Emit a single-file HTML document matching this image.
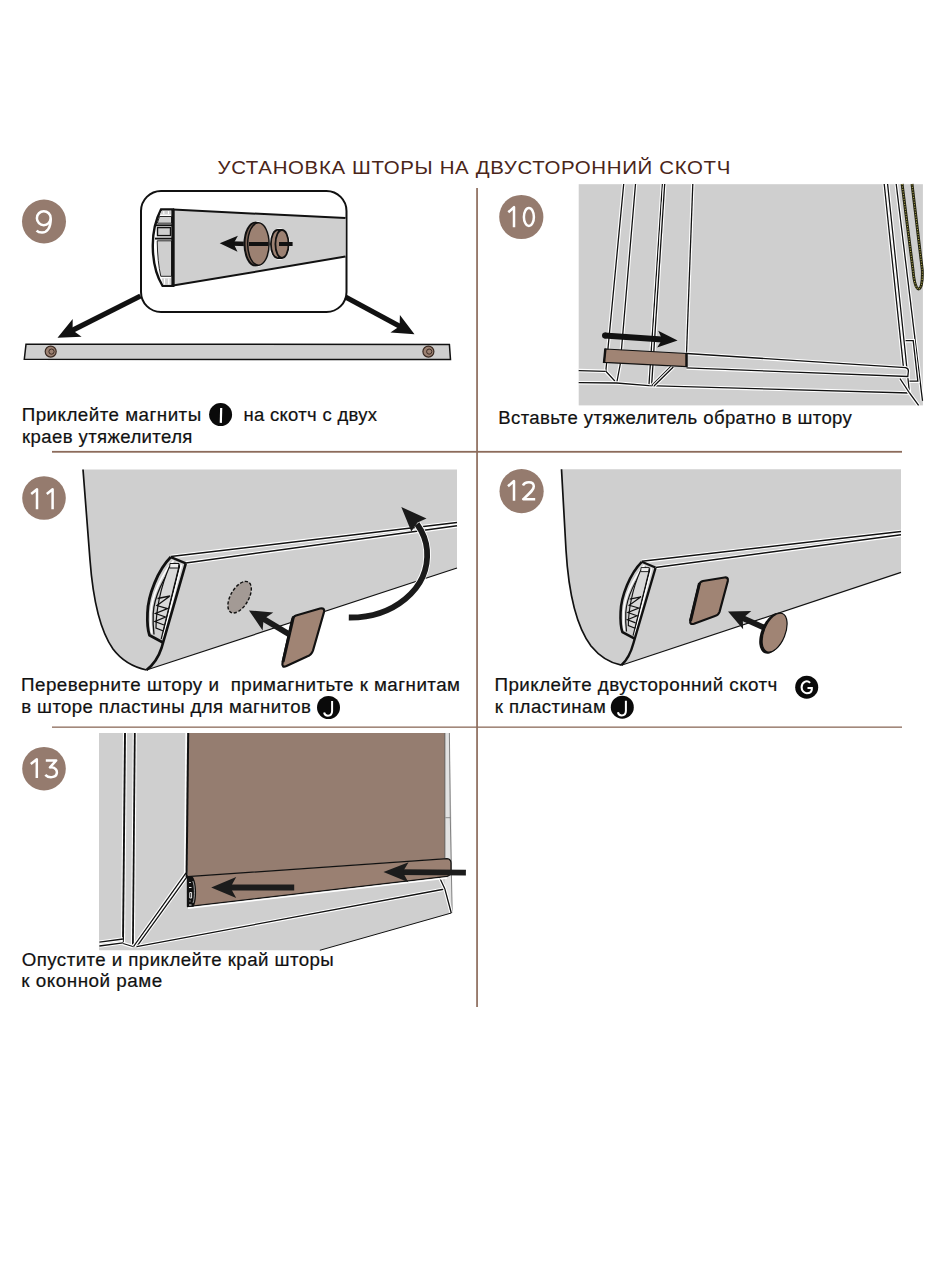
<!DOCTYPE html>
<html><head><meta charset="utf-8"><style>
html,body{margin:0;padding:0;background:#fff;width:950px;height:1266px;overflow:hidden}
svg{position:absolute;left:0;top:0;font-family:"Liberation Sans",sans-serif}
</style></head><body>
<svg width="950" height="1266" viewBox="0 0 950 1266">
<rect x="476.2" y="188" width="1.7" height="819" fill="#8c6b5b"/>
<rect x="52" y="450.9" width="850" height="1.8" fill="#8c6b5b"/>
<rect x="52" y="726.5" width="850" height="1.3" fill="#8c6b5b"/>
<text transform="translate(217.49,174) scale(1.0773,1.0)" font-size="19" letter-spacing="0.602" fill="#4a2519">УСТАНОВКА ШТОРЫ НА ДВУСТОРОННИЙ СКОТЧ</text>
<circle cx="44" cy="221.5" r="22" fill="#957b6e"/>
<g fill="none" stroke="#fff" stroke-width="2.5" stroke-linejoin="round"><ellipse cx="43.8" cy="218.2" rx="6.9" ry="7"/><path d="M50.7,218.5 C50.8,228 47,232.6 42,232.6 C39.6,232.6 37.8,231.9 36.6,230.6"/></g>
<rect x="141" y="191" width="205.5" height="121" rx="20" fill="#fff" stroke="#111" stroke-width="2"/>
<polygon points="173,209.6 345.5,218 345.5,256.6 173,285.6" fill="#cfcfcf"/>
<polyline points="173,209.6 345.5,218" fill="none" stroke="#111" stroke-width="2"/>
<polyline points="173,285.6 345.5,256.6" fill="none" stroke="#111" stroke-width="2"/>
<path d="M173,209.4 L161.1,209.4 C155,221 152.6,236 152.8,247 C153,262 156.5,276 162.6,285.9 L173,285.9 Z" fill="#fff" stroke="#111" stroke-width="2.4"/>
<path d="M161.5,211 L171.5,211 L171.5,214.5 L159.8,214.5 Z" fill="#cfcfcf"/>
<path d="M163.8,211 L163.8,214 M168.5,211 L168.5,214" stroke="#fff" stroke-width="1.1"/>
<path d="M159.5,216.5 L171.5,216.5 L171.5,223.2 L157.3,223.2 Z" fill="#cfcfcf" stroke="#111" stroke-width="0.9"/>
<line x1="155.8" y1="225.3" x2="173" y2="225.3" stroke="#111" stroke-width="1.9"/>
<rect x="157.5" y="227.6" width="13" height="8" fill="#cfcfcf" stroke="#111" stroke-width="1.4"/>
<line x1="155" y1="238.6" x2="173" y2="238.6" stroke="#111" stroke-width="1.9"/>
<path d="M157.2,240.8 L171.5,240.8 L171.5,276.3 L160.8,276.3 Q157.5,262 157.2,240.8 Z" fill="#cfcfcf" stroke="#111" stroke-width="0.9"/>
<path d="M161.8,278.2 L171.5,278.2 L171.5,284.8 L163,284.8 Z" fill="#cfcfcf"/>
<path d="M164.5,278.5 L164.5,284.5 M168.8,278.5 L168.8,284.5" stroke="#fff" stroke-width="1.1"/>
<line x1="173" y1="209" x2="173" y2="286.5" stroke="#111" stroke-width="3.2"/>
<line x1="249.0" y1="244.0" x2="230.5" y2="243.5" stroke="#111" stroke-width="4.5"/>
<polygon points="219.7,243.2 237.9,235.7 233.6,243.6 237.5,251.7" fill="#111"/>
<ellipse cx="256.8" cy="244" rx="13" ry="23" fill="#fff"/>
<ellipse cx="279.5" cy="244" rx="10.5" ry="15.8" fill="#fff"/>
<ellipse cx="255.5" cy="244" rx="11" ry="21.5" fill="#7d6558" stroke="#111" stroke-width="2"/>
<ellipse cx="258.4" cy="244" rx="10.7" ry="21.2" fill="#9c8172" stroke="#111" stroke-width="1.5"/>
<ellipse cx="277.5" cy="244" rx="6.6" ry="14" fill="#9c8172" stroke="#111" stroke-width="1.8"/>
<rect x="277.5" y="230" width="4.5" height="28" fill="#9c8172"/>
<path d="M277.5,230 L282,230 M277.5,258 L282,258" stroke="#111" stroke-width="1.8"/>
<ellipse cx="282" cy="244" rx="6.6" ry="14" fill="#9c8172" stroke="#111" stroke-width="1.8"/>
<line x1="249" y1="244" x2="268.5" y2="244" stroke="#111" stroke-width="4"/>
<line x1="279" y1="244" x2="292.6" y2="244" stroke="#111" stroke-width="4"/>
<polygon points="26,344.3 449.4,344.4 450.5,359.6 24.3,359.2" fill="#cfcfcf" stroke="#111" stroke-width="1.5"/>
<circle cx="50.7" cy="351.6" r="5.5" fill="#9c8172" stroke="#3a2a22" stroke-width="1.2"/>
<circle cx="51.5" cy="351.6" r="2.6" fill="none" stroke="#3a2a22" stroke-width="1"/>
<circle cx="428.4" cy="351.6" r="5.5" fill="#9c8172" stroke="#3a2a22" stroke-width="1.2"/>
<circle cx="429.2" cy="351.6" r="2.6" fill="none" stroke="#3a2a22" stroke-width="1"/>
<line x1="140.5" y1="296.0" x2="69.3" y2="331.9" stroke="#111" stroke-width="5.2"/>
<polygon points="57.5,337.8 72.7,319.0 72.6,330.2 81.6,336.8" fill="#111"/>
<line x1="345.5" y1="297.0" x2="402.9" y2="328.0" stroke="#111" stroke-width="5.2"/>
<polygon points="414.5,334.3 390.4,332.6 399.6,326.2 399.9,315.0" fill="#111"/>
<text transform="translate(21.70,421) scale(1.0728,1.03)" font-size="17.5" letter-spacing="0.446" fill="#111" stroke="#111" stroke-width="0.2">Приклейте магниты</text>
<circle cx="220.6" cy="414.6" r="11.5" fill="#0a0a0a"/>
<line x1="221.20" y1="408.00" x2="220.80" y2="422.90" stroke="#fff" stroke-width="2.2"/>
<text transform="translate(243.41,421) scale(1.0555,1.03)" font-size="17.5" letter-spacing="0.303" fill="#111" stroke="#111" stroke-width="0.2">на скотч с двух</text>
<text transform="translate(21.99,443) scale(1.0613,1.03)" font-size="17.5" letter-spacing="0.367" fill="#111" stroke="#111" stroke-width="0.2">краев утяжелителя</text>
<rect x="578.7" y="184.2" width="344.2" height="221.2" fill="#cfcfcf"/>
<polyline points="623.7,184 605.8,371.3 616.7,383" stroke="#fff" fill="none" stroke-width="3.50"/>
<polyline points="623.7,184 605.8,371.3 616.7,383" stroke="#111" fill="none" stroke-width="1.3"/>
<polyline points="635.5,184 620.2,364.5 616.7,383" stroke="#fff" fill="none" stroke-width="3.50"/>
<polyline points="635.5,184 620.2,364.5 616.7,383" stroke="#111" fill="none" stroke-width="1.3"/>
<line x1="662.4" y1="184" x2="648.9" y2="385.7" stroke="#fff" fill="none" stroke-width="3.50"/>
<line x1="662.4" y1="184" x2="648.9" y2="385.7" stroke="#111" fill="none" stroke-width="1.3"/>
<line x1="664.7" y1="184" x2="651.6" y2="385.7" stroke="#fff" fill="none" stroke-width="3.50"/>
<line x1="664.7" y1="184" x2="651.6" y2="385.7" stroke="#111" fill="none" stroke-width="1.3"/>
<line x1="692.8" y1="184" x2="686.5" y2="353.5" stroke="#fff" fill="none" stroke-width="3.50"/>
<line x1="692.8" y1="184" x2="686.5" y2="353.5" stroke="#111" fill="none" stroke-width="1.3"/>
<line x1="578.7" y1="370.6" x2="605.8" y2="371.3" stroke="#fff" fill="none" stroke-width="3.50"/>
<line x1="578.7" y1="370.6" x2="605.8" y2="371.3" stroke="#111" fill="none" stroke-width="1.3"/>
<polyline points="578.7,382.7 616.7,383 648.9,385.7 909.5,393" stroke="#fff" fill="none" stroke-width="3.50"/>
<polyline points="578.7,382.7 616.7,383 648.9,385.7 909.5,393" stroke="#111" fill="none" stroke-width="1.3"/>
<line x1="670.8" y1="366.5" x2="651.6" y2="385.7" stroke="#fff" fill="none" stroke-width="3.50"/>
<line x1="670.8" y1="366.5" x2="651.6" y2="385.7" stroke="#111" fill="none" stroke-width="1.3"/>
<line x1="673.3" y1="367" x2="654" y2="386" stroke="#fff" fill="none" stroke-width="3.50"/>
<line x1="673.3" y1="367" x2="654" y2="386" stroke="#111" fill="none" stroke-width="1.3"/>
<polyline points="884.2,184 903.4,366.9" stroke="#fff" fill="none" stroke-width="3.50"/>
<polyline points="884.2,184 903.4,366.9" stroke="#111" fill="none" stroke-width="1.3"/>
<polyline points="887.6,184 909.5,393 918.6,405.4" stroke="#fff" fill="none" stroke-width="3.50"/>
<polyline points="887.6,184 909.5,393 918.6,405.4" stroke="#111" fill="none" stroke-width="1.3"/>
<line x1="896.2" y1="184" x2="922.5" y2="400.8" stroke="#fff" fill="none" stroke-width="3.50"/>
<line x1="896.2" y1="184" x2="922.5" y2="400.8" stroke="#111" fill="none" stroke-width="1.3"/>
<polyline points="905.6,340.7 913.2,340.7 917.8,381.2 909.5,381.2" stroke="#fff" fill="none" stroke-width="3.50"/>
<polyline points="905.6,340.7 913.2,340.7 917.8,381.2 909.5,381.2" stroke="#111" fill="none" stroke-width="1.3"/>
<path d="M686.5,353.5 L905.5,367.7 Q909,368.5 908.3,372 L907.8,376.5 L686.5,367.9 Z" fill="#cfcfcf"/>
<path d="M686.5,353.5 L905.5,367.7 Q909,368.5 908.3,372 L907.8,376.5 L686.5,367.9" stroke="#fff" fill="none" stroke-width="3.50"/>
<path d="M686.5,353.5 L905.5,367.7 Q909,368.5 908.3,372 L907.8,376.5 L686.5,367.9" stroke="#111" fill="none" stroke-width="1.3"/>
<line x1="900" y1="378.6" x2="909.5" y2="393" stroke="#fff" fill="none" stroke-width="3.50"/>
<line x1="900" y1="378.6" x2="909.5" y2="393" stroke="#111" fill="none" stroke-width="1.3"/>
<path d="M902.1,184 L913,270 C914.2,284 916.5,289 918.5,289 C920.8,289 922.8,284 922.3,270 L912,184" fill="none" stroke="#222210" stroke-width="2.9"/>
<path d="M902.1,184 L913,270 C914.2,284 916.5,289 918.5,289 C920.8,289 922.8,284 922.3,270 L912,184" fill="none" stroke="#b5ad50" stroke-width="1.1" stroke-dasharray="1 1.5"/>
<polygon points="605.4,349 686.5,353.5 686.5,366.5 604,362.4" fill="#a08474" stroke="#111" stroke-width="1.2"/>
<line x1="605.4" y1="348.5" x2="604" y2="363" stroke="#111" stroke-width="2.4"/>
<line x1="686.5" y1="353" x2="686.5" y2="367" stroke="#111" stroke-width="2.4"/>
<line x1="604.5" y1="335.5" x2="665.6" y2="339.7" stroke="#111" stroke-width="6"/>
<polygon points="677.6,340.5 657.1,347.6 662.2,339.4 658.2,330.7" fill="#111"/>
<circle cx="605" cy="335.4" r="3" fill="#111"/>
<circle cx="521.3" cy="217" r="22.1" fill="#957b6e"/>
<g fill="none" stroke="#fff" stroke-width="2.5" stroke-linejoin="round"><path d="M508.3,212.3 L514,207.2 L514,227.2"/><ellipse cx="528.9" cy="216.9" rx="5" ry="9"/></g>
<text transform="translate(498.21,423.8) scale(1.0619,1.03)" font-size="17.5" letter-spacing="0.354" fill="#111" stroke="#111" stroke-width="0.2">Вставьте утяжелитель обратно в штору</text>
<path d="M83,469.5 L457,469.5 L457,568 L146.5,670 C133,667 122,661 113,649 C101,632 93,600 90,560 Z" fill="#cfcfcf"/>
<line x1="457" y1="568" x2="146.5" y2="670" stroke="#111" stroke-width="1.2"/>
<path d="M146.5,670 C133,667 122,661 113,649 C101,632 93,600 90,560 L83,469.5" fill="none" stroke="#111" stroke-width="1.7"/>
<line x1="170.8" y1="556.6" x2="457" y2="522.6" stroke="#fff" stroke-width="3.70"/>
<line x1="170.8" y1="556.6" x2="457" y2="522.6" stroke="#111" stroke-width="1.5"/>
<line x1="185.8" y1="562.9" x2="457" y2="525.8" stroke="#fff" stroke-width="3.70"/>
<line x1="185.8" y1="562.9" x2="457" y2="525.8" stroke="#111" stroke-width="1.5"/>
<g>
<path d="M170.8,557.1 C158,570 148,595 147.5,613 C147,624 148,631 149.5,635.3 L162.9,642.4 L185.8,563.4 Z" fill="#cfcfcf"/>
<path d="M173.6,560.6 C162,574 151.4,596 150.8,613 C150.4,622 150.8,628 151.6,633.5" fill="none" stroke="#fff" stroke-width="1.6"/>
<path d="M175.4,562.8 C164,576 154,597 153.2,613.5 C152.8,622 153.2,628 154,634.5" fill="none" stroke="#111" stroke-width="1.3"/>
<path d="M169.5,566.5 L179.5,566.5 L163.5,631 L156,628 C156,612 160,588 169.5,566.5 Z" fill="#d9d9d9" stroke="#111" stroke-width="1.2"/>
<path d="M170,563.5 L179,563.5 L178.5,568 L169.5,568 Z" fill="#eee" stroke="#111" stroke-width="1"/>
<polyline points="157.5,598.5 170,596 157,605.5 167.5,608.5 155.5,613.5 165.5,617 155,621.5 164,625" fill="none" stroke="#111" stroke-width="1.3"/>
<line x1="181.5" y1="564.5" x2="163" y2="638" stroke="#fff" stroke-width="1.5"/>
<line x1="179.5" y1="564.5" x2="161.2" y2="639" stroke="#111" stroke-width="1.2"/>
<path d="M170.8,557.1 C158,570 148,595 147.5,613 C147,624 148,631 149.5,635.3 L162.9,642.4" fill="none" stroke="#111" stroke-width="2.8" stroke-linejoin="round"/>
<path d="M170.8,557.1 L185.8,563.4" fill="none" stroke="#111" stroke-width="2.5"/>
</g>
<path d="M185.8,563.4 L161.5,648 Q157,662 146.5,670" fill="none" stroke="#111" stroke-width="2.6"/>
<ellipse cx="239.6" cy="597.2" rx="9" ry="17.5" transform="rotate(30 239.6 597.2)" fill="#a39a95" stroke="#111" stroke-width="1.4" stroke-dasharray="3.2 1.8"/>
<path d="M296,615.5 L320,608.5 Q325,607.5 324,612 L313,650.5 Q311.5,655 307,656.5 L286.5,666 Q281.5,668 282.5,663 L292,620 Q293,616.5 296,615.5 Z" fill="#a08474" stroke="#111" stroke-width="2.2"/>
<path d="M293.5,616.5 L283,662" stroke="#111" stroke-width="3" fill="none"/>
<line x1="289.5" y1="634.4" x2="260.4" y2="617.1" stroke="#1a1a1a" stroke-width="5.8"/>
<polygon points="249.0,610.4 273.3,612.6 263.6,619.0 262.6,630.6" fill="#1a1a1a"/>
<path d="M348.8,617.5 C392,618 430,590 427,550 C426,538 422,531 417,524" fill="none" stroke="#fff" stroke-width="7.6"/>
<path d="M348.8,617.5 C392,618 430,590 427,550 C426,538 422,531 417,524" fill="none" stroke="#1a1a1a" stroke-width="5.8"/>
<polygon points="401.3,507 426.5,518.4 417.5,522.5 411.3,531.6" fill="#1a1a1a"/>
<circle cx="44" cy="498" r="21.8" fill="#957b6e"/>
<g fill="none" stroke="#fff" stroke-width="2.5" stroke-linejoin="round"><path d="M31.2,494 L37,489.3 L37,509.2"/><path d="M46.8,494 L52.6,489.3 L52.6,509.2"/></g>
<text transform="translate(21.10,691) scale(1.0743,1.03)" font-size="17.5" letter-spacing="0.416" fill="#111" stroke="#111" stroke-width="0.2">Переверните штору и&#160; примагнитьте к магнитам</text>
<text transform="translate(21.30,712.7) scale(1.0629,1.03)" font-size="17.5" letter-spacing="0.367" fill="#111" stroke="#111" stroke-width="0.2">в шторе пластины для магнитов</text>
<circle cx="328.5" cy="707.5" r="11.5" fill="#0a0a0a"/>
<path d="M332.10,701.00 L332.10,711.00 C332.10,714.50 330.10,715.70 327.90,715.70 C325.90,715.70 324.50,714.50 324.10,712.50" fill="none" stroke="#fff" stroke-width="2"/>
<path d="M561.5,469.3 L901,469.3 L901,572.4 L621.4,665.2 C610,663 600,657 591,646 C576,626 568.5,592 566,550 Z" fill="#cfcfcf"/>
<line x1="901" y1="572.4" x2="621.4" y2="665.2" stroke="#111" stroke-width="1.2"/>
<path d="M621.4,665.2 C610,663 600,657 591,646 C576,626 568.5,592 566,550 L561.5,469.3" fill="none" stroke="#111" stroke-width="1.7"/>
<line x1="641.8" y1="561.3" x2="901" y2="531.5" stroke="#fff" stroke-width="3.70"/>
<line x1="641.8" y1="561.3" x2="901" y2="531.5" stroke="#111" stroke-width="1.5"/>
<line x1="655.5" y1="567.5" x2="901" y2="534.8" stroke="#fff" stroke-width="3.70"/>
<line x1="655.5" y1="567.5" x2="901" y2="534.8" stroke="#111" stroke-width="1.5"/>
<g transform="translate(641.8,561.8) scale(0.91,0.9) translate(-170.8,-557.1)">
<path d="M170.8,557.1 C158,570 148,595 147.5,613 C147,624 148,631 149.5,635.3 L162.9,642.4 L185.8,563.4 Z" fill="#cfcfcf"/>
<path d="M173.6,560.6 C162,574 151.4,596 150.8,613 C150.4,622 150.8,628 151.6,633.5" fill="none" stroke="#fff" stroke-width="1.6"/>
<path d="M175.4,562.8 C164,576 154,597 153.2,613.5 C152.8,622 153.2,628 154,634.5" fill="none" stroke="#111" stroke-width="1.3"/>
<path d="M169.5,566.5 L179.5,566.5 L163.5,631 L156,628 C156,612 160,588 169.5,566.5 Z" fill="#d9d9d9" stroke="#111" stroke-width="1.2"/>
<path d="M170,563.5 L179,563.5 L178.5,568 L169.5,568 Z" fill="#eee" stroke="#111" stroke-width="1"/>
<polyline points="157.5,598.5 170,596 157,605.5 167.5,608.5 155.5,613.5 165.5,617 155,621.5 164,625" fill="none" stroke="#111" stroke-width="1.3"/>
<line x1="181.5" y1="564.5" x2="163" y2="638" stroke="#fff" stroke-width="1.5"/>
<line x1="179.5" y1="564.5" x2="161.2" y2="639" stroke="#111" stroke-width="1.2"/>
<path d="M170.8,557.1 C158,570 148,595 147.5,613 C147,624 148,631 149.5,635.3 L162.9,642.4" fill="none" stroke="#111" stroke-width="2.8" stroke-linejoin="round"/>
<path d="M170.8,557.1 L185.8,563.4" fill="none" stroke="#111" stroke-width="2.5"/>
</g>
<path d="M655.5,568 L633.5,643 Q629.5,658 621.4,665.2" fill="none" stroke="#111" stroke-width="2.4"/>
<path d="M703,581 L724.5,577.5 Q728.5,577 727.8,581 L719.5,612 Q718.5,615 715,616 L694,623.7 Q689.5,625 690.3,620.5 L699,585 Q700,581.5 703,581 Z" fill="#a08474" stroke="#111" stroke-width="2.2"/>
<path d="M699.5,583 L690.5,621" stroke="#111" stroke-width="3" fill="none"/>
<line x1="766.0" y1="628.5" x2="739.5" y2="616.7" stroke="#1a1a1a" stroke-width="5.8"/>
<polygon points="728.0,611.6 751.3,611.0 742.8,618.2 743.1,629.3" fill="#1a1a1a"/>
<ellipse cx="772.8" cy="633.3" rx="11.8" ry="21.6" transform="rotate(22 772.8 633.3)" fill="#111"/>
<ellipse cx="774.6" cy="632.6" rx="10.6" ry="20.6" transform="rotate(22 774.6 632.6)" fill="#a08474" stroke="#111" stroke-width="1.2"/>
<circle cx="521.6" cy="491.2" r="22.1" fill="#957b6e"/>
<g fill="none" stroke="#fff" stroke-width="2.5" stroke-linejoin="round"><path d="M508,486.3 L514,481 L514,500.7"/><path d="M523,485.5 C524.5,481.5 533.5,480.5 533.8,486.2 C534,489.5 530.5,492.5 523.2,499.2 L535.2,499.2"/></g>
<text transform="translate(494.50,691) scale(1.0735,1.03)" font-size="17.5" letter-spacing="0.422" fill="#111" stroke="#111" stroke-width="0.2">Приклейте двусторонний скотч</text>
<circle cx="806.7" cy="687.2" r="11.5" fill="#0a0a0a"/>
<path d="M810.10,682.90 A5.1,6 0 0 0 801.60,687.20 A5.1,6 0 0 0 806.70,693.20 C809.70,693.20 811.80,691.70 811.80,689.20 L811.80,688.00 L807.50,688.00" fill="none" stroke="#fff" stroke-width="2.1"/>
<text transform="translate(494.79,712.7) scale(1.0673,1.03)" font-size="17.5" letter-spacing="0.410" fill="#111" stroke="#111" stroke-width="0.2">к пластинам</text>
<circle cx="622.3" cy="707.2" r="11.5" fill="#0a0a0a"/>
<path d="M625.90,700.70 L625.90,710.70 C625.90,714.20 623.90,715.40 621.70,715.40 C619.70,715.40 618.30,714.20 617.90,712.20" fill="none" stroke="#fff" stroke-width="2"/>
<polygon points="99,733 449.4,733 451.3,817.7 452.2,913 319.8,950.3 99,950.3" fill="#cfcfcf"/>
<polygon points="444.9,733 449.4,733 450.3,817.7 452.2,913 444.9,889" fill="#e2e2e2"/>
<polyline points="449.4,733 450.3,817.7 452.2,913" fill="none" stroke="#777" stroke-width="0.9"/>
<polyline points="445.5,817.7 450.8,817.7" fill="none" stroke="#777" stroke-width="0.8"/>
<line x1="125" y1="733" x2="123" y2="943.5" stroke="#fff" stroke-width="4.10"/>
<line x1="125" y1="733" x2="123" y2="943.5" stroke="#111" stroke-width="1.9"/>
<line x1="134.8" y1="733" x2="132.9" y2="946" stroke="#fff" stroke-width="4.00"/>
<line x1="134.8" y1="733" x2="132.9" y2="946" stroke="#111" stroke-width="1.8"/>
<polyline points="123,943.5 132.9,946.5" stroke="#fff" fill="none" stroke-width="3.50"/>
<polyline points="123,943.5 132.9,946.5" stroke="#111" fill="none" stroke-width="1.3"/>
<line x1="99.4" y1="942.2" x2="123" y2="939" stroke="#fff" fill="none" stroke-width="3.50"/>
<line x1="99.4" y1="942.2" x2="123" y2="939" stroke="#111" fill="none" stroke-width="1.3"/>
<line x1="99.4" y1="946" x2="123" y2="942.8" stroke="#fff" fill="none" stroke-width="3.50"/>
<line x1="99.4" y1="946" x2="123" y2="942.8" stroke="#111" fill="none" stroke-width="1.3"/>
<line x1="187.5" y1="873.5" x2="135" y2="946.6" stroke="#fff" stroke-width="2.2"/>
<line x1="186.6" y1="872.1" x2="133.5" y2="946.6" stroke="#fff" fill="none" stroke-width="3.50"/>
<line x1="186.6" y1="872.1" x2="133.5" y2="946.6" stroke="#111" fill="none" stroke-width="1.3"/>
<line x1="188" y1="875.3" x2="136.7" y2="946.6" stroke="#fff" fill="none" stroke-width="3.50"/>
<line x1="188" y1="875.3" x2="136.7" y2="946.6" stroke="#111" fill="none" stroke-width="1.3"/>
<line x1="136.7" y1="946.6" x2="444.9" y2="889" stroke="#fff" fill="none" stroke-width="3.50"/>
<line x1="136.7" y1="946.6" x2="444.9" y2="889" stroke="#111" fill="none" stroke-width="1.3"/>
<line x1="439.4" y1="877.2" x2="444.9" y2="889.1" stroke="#fff" fill="none" stroke-width="3.50"/>
<line x1="439.4" y1="877.2" x2="444.9" y2="889.1" stroke="#111" fill="none" stroke-width="1.3"/>
<line x1="444.9" y1="889.1" x2="451.3" y2="913" stroke="#fff" fill="none" stroke-width="3.50"/>
<line x1="444.9" y1="889.1" x2="451.3" y2="913" stroke="#111" fill="none" stroke-width="1.3"/>
<line x1="451.3" y1="913" x2="319.8" y2="950.3" stroke="#111" stroke-width="1"/>
<polygon points="188.2,733 444.9,733 444.9,858.6 187.6,876.7" fill="#957d70"/>
<line x1="186.2" y1="733" x2="184.7" y2="873" stroke="#fff" stroke-width="1.6"/>
<line x1="188.2" y1="733" x2="186.6" y2="877" stroke="#111" stroke-width="2"/>
<line x1="444.9" y1="733" x2="444.9" y2="858" stroke="#555" stroke-width="0.8"/>
<path d="M187.6,876.7 L447,858.6 Q451,859 451,863 L451,872 Q450.5,875.5 447,876.4 L187.6,906.5 Z" fill="#9a8072" stroke="#111" stroke-width="1.2"/>
<line x1="188" y1="908.2" x2="447" y2="878" stroke="#fff" stroke-width="1.6"/>
<path d="M186.8,877 L192.8,877 C196.8,882 197.3,900 193.5,906.8 L186.8,906.8 Z" fill="#111"/>
<path d="M189.2,882.5 L190.8,882.5 M189,887.5 L191.5,887.5 M189.8,892.5 L191.6,892.5 L191.6,898 L189.8,898 Z M189.5,901 L190.5,901 M189,905 L191.5,905" stroke="#fff" stroke-width="0.9" fill="none"/>
<path d="M192.8,881 C194.8,886 195,897 193,903" stroke="#ddd" stroke-width="0.7" fill="none"/>
<line x1="294.2" y1="887.5" x2="226.2" y2="887.5" stroke="#1c1c1c" stroke-width="5.9"/>
<polygon points="211.2,887.5 236.2,877.0 230.4,887.5 236.2,898.0" fill="#1c1c1c"/>
<line x1="465.9" y1="872.6" x2="398.5" y2="872.1" stroke="#1c1c1c" stroke-width="5.9"/>
<polygon points="383.5,872.0 408.6,862.2 402.7,872.1 408.4,882.2" fill="#1c1c1c"/>
<circle cx="44" cy="768.7" r="21.8" fill="#957b6e"/>
<g fill="none" stroke="#fff" stroke-width="2.5" stroke-linejoin="round"><path d="M30.8,764 L36.8,759.3 L36.8,777.9"/><path d="M45.8,760.4 L56.2,760.4 L50,767.4 C55.5,767 57.3,770.5 56.8,773.3 C56,778 48.5,778.3 45.3,774.8"/></g>
<text transform="translate(21.76,966.4) scale(1.0697,1.03)" font-size="17.5" letter-spacing="0.403" fill="#111" stroke="#111" stroke-width="0.2">Опустите и приклейте край шторы</text>
<text transform="translate(21.37,987.4) scale(1.0779,1.03)" font-size="17.5" letter-spacing="0.456" fill="#111" stroke="#111" stroke-width="0.2">к оконной раме</text>
</svg>
</body></html>
